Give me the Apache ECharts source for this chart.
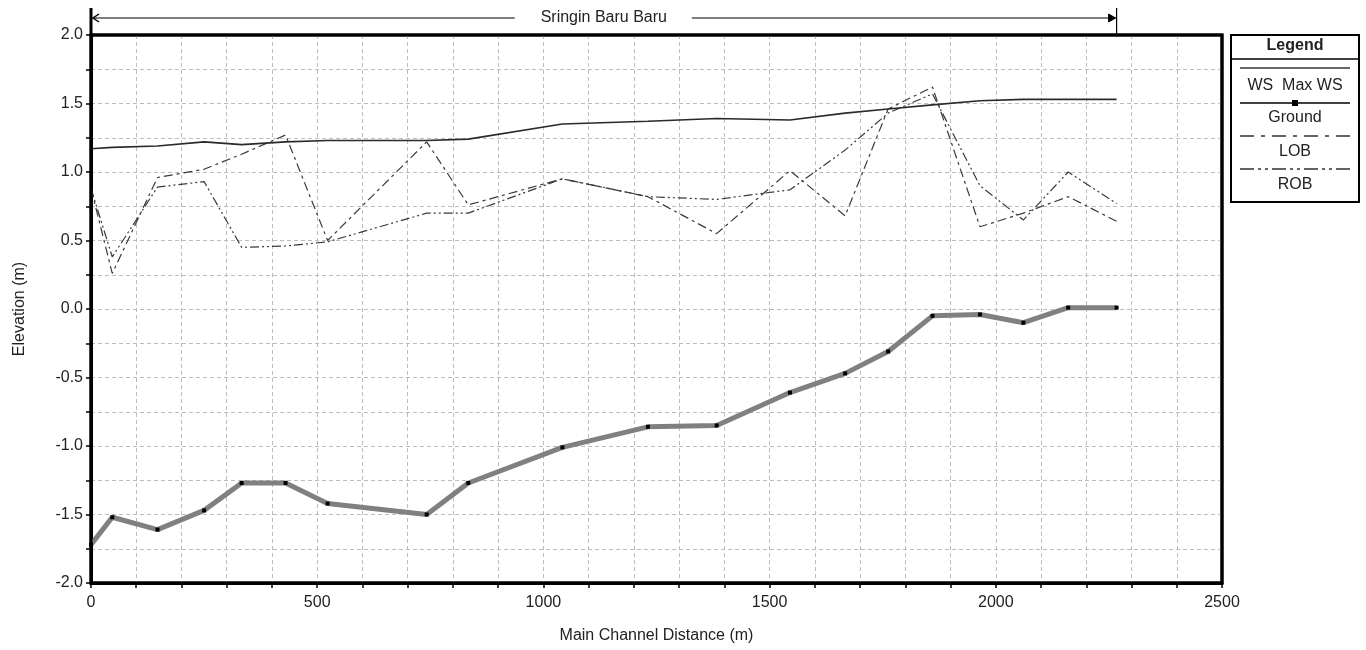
<!DOCTYPE html>
<html>
<head>
<meta charset="utf-8">
<script src="https://cdn.jsdelivr.net/npm/echarts@6/dist/echarts.min.js"></script>
<style>
  html, body { margin: 0; padding: 0; background: #fff; }
  #chart { width: 1366px; height: 650px; }
</style>
</head>
<body>
<div id="chart"></div>
<script>
// river stations along main channel (m)
const stations = [0, 47, 147, 250, 333, 430, 523, 742, 834, 1042, 1231, 1383, 1545, 1667, 1762, 1860, 1965, 2061, 2160, 2267]
const wsMax = [1.17, 1.18, 1.19, 1.22, 1.20, 1.22, 1.23, 1.23, 1.24, 1.35, 1.37, 1.39, 1.38, 1.43, 1.46, 1.49, 1.52, 1.53, 1.53, 1.53]
const ground = [-1.72, -1.52, -1.61, -1.47, -1.27, -1.27, -1.42, -1.50, -1.27, -1.01, -0.86, -0.85, -0.61, -0.47, -0.31, -0.05, -0.04, -0.10, 0.01, 0.01]
const lob = [0.88, 0.26, 0.96, 1.02, 1.13, 1.27, 0.50, 1.22, 0.76, 0.95, 0.82, 0.55, 1.01, 0.68, 1.46, 1.62, 0.60, 0.70, 0.82, 0.64]
const rob = [0.88, 0.38, 0.89, 0.93, 0.45, 0.46, 0.49, 0.70, 0.70, 0.95, 0.82, 0.80, 0.87, 1.16, 1.43, 1.57, 0.90, 0.65, 1.00, 0.77]

const reachName = 'Sringin Baru Baru'
const reachStart = 0
const reachEnd = 2267

const FONT = '"Liberation Sans", Arial, sans-serif'
const pairs = vals => stations.map((s, i) => [s, vals[i]])

const chart = echarts.init(document.getElementById('chart'))

const option = {
  animation: false,
  backgroundColor: '#fff',
  grid: { left: 91, right: 144, top: 35, bottom: 67, show: true, borderColor: '#000', borderWidth: 3 },
  xAxis: {
    type: 'value',
    min: 0,
    max: 2500,
    interval: 100,
    name: 'Main Channel Distance (m)',
    nameLocation: 'middle',
    nameGap: 45,
    nameTextStyle: { color: '#222', fontSize: 16, fontFamily: FONT },
    axisLine: { onZero: false, lineStyle: { color: '#000', width: 3 } },
    axisTick: { length: 5, lineStyle: { color: '#000', width: 1.5 } },
    axisLabel: {
      margin: 12,
      color: '#222',
      fontSize: 16,
      fontFamily: FONT,
      formatter: v => (v % 500 === 0 ? String(v) : '')
    },
    splitLine: { lineStyle: { color: '#bdbdbd', type: [4, 3], width: 1 } }
  },
  yAxis: {
    type: 'value',
    min: -2,
    max: 2,
    interval: 0.25,
    name: 'Elevation (m)',
    nameLocation: 'middle',
    nameGap: 63,
    nameTextStyle: { color: '#222', fontSize: 16, fontFamily: FONT },
    axisLine: { onZero: false, lineStyle: { color: '#000', width: 3 } },
    axisTick: { length: 5, lineStyle: { color: '#000', width: 1.5 } },
    axisLabel: {
      margin: 8,
      color: '#222',
      fontSize: 16,
      fontFamily: FONT,
      formatter: v => (Math.abs(v * 2 - Math.round(v * 2)) < 1e-6 ? v.toFixed(1) : '')
    },
    splitLine: { lineStyle: { color: '#bdbdbd', type: [4, 3], width: 1 } }
  },
  series: [
    {
      name: 'WS Max WS',
      type: 'line',
      data: pairs(wsMax),
      showSymbol: false,
      symbol: 'none',
      lineStyle: { color: '#2a2a2a', width: 1.6 },
      z: 4
    },
    {
      name: 'Ground',
      type: 'line',
      data: pairs(ground),
      symbol: 'rect',
      symbolSize: 4,
      itemStyle: { color: '#000' },
      lineStyle: { color: '#808080', width: 5 },
      z: 3
    },
    {
      name: 'LOB',
      type: 'line',
      data: pairs(lob),
      symbol: 'none',
      lineStyle: { color: '#3a3a3a', width: 1.2, type: [9, 4, 3, 4] },
      z: 2
    },
    {
      name: 'ROB',
      type: 'line',
      data: pairs(rob),
      symbol: 'none',
      lineStyle: { color: '#3a3a3a', width: 1.2, type: [9, 3, 2, 3, 2, 3] },
      z: 2
    }
  ]
}
chart.setOption(option)

// plot frame and reach annotation, placed through the axis scales
const [fx0, fy0] = chart.convertToPixel({ gridIndex: 0 }, [0, 2])
const [fx1, fy1] = chart.convertToPixel({ gridIndex: 0 }, [2500, -2])
const xs = chart.convertToPixel({ xAxisIndex: 0 }, reachStart)
const xe = chart.convertToPixel({ xAxisIndex: 0 }, reachEnd)
const mid = (xs + xe) / 2
const ay = 18
const thin = { stroke: '#000', lineWidth: 1.2 }

// legend box
const lgX = 1231
const lgW = 128
const lgCx = lgX + lgW / 2
const sampleX1 = 1240
const sampleX2 = 1350
const legendText = (txt, y, bold) => ({
  type: 'text',
  x: lgCx,
  y: y,
  style: { text: txt, align: 'center', verticalAlign: 'middle', fill: '#222', fontSize: 16, fontFamily: FONT, fontWeight: bold ? 'bold' : 'normal' }
})
const legendLine = (y, dash, w, col) => ({
  type: 'line',
  shape: { x1: sampleX1, y1: y, x2: sampleX2, y2: y },
  style: { stroke: col || '#333', lineWidth: w || 1.3, lineDash: dash || null }
})

chart.setOption({
  graphic: [
    {
      type: 'rect', z: 100,
      shape: { x: fx0, y: fy0, width: fx1 - fx0, height: fy1 - fy0 },
      style: { fill: null, stroke: '#000', lineWidth: 3 }
    },
    { type: 'line', shape: { x1: xs, y1: 8, x2: xs, y2: 35 }, style: { stroke: '#000', lineWidth: 3 } },
    { type: 'line', shape: { x1: xe, y1: 8, x2: xe, y2: 35 }, style: thin },
    { type: 'line', shape: { x1: xs + 2, y1: ay, x2: mid - 89, y2: ay }, style: thin },
    { type: 'line', shape: { x1: mid + 88, y1: ay, x2: xe - 1, y2: ay }, style: thin },
    { type: 'polyline', shape: { points: [[xs + 8, ay - 4], [xs + 2, ay], [xs + 8, ay + 4]] }, style: { stroke: '#000', lineWidth: 1.5, fill: null } },
    { type: 'polygon', shape: { points: [[xe - 8, ay - 4], [xe - 1, ay], [xe - 8, ay + 4]] }, style: { stroke: '#000', lineWidth: 1, fill: '#000' } },
    {
      type: 'text', x: mid, y: ay,
      style: { text: reachName, align: 'center', verticalAlign: 'middle', fill: '#222', fontSize: 16, fontFamily: FONT }
    },
    { type: 'rect', shape: { x: lgX, y: 35, width: lgW, height: 167 }, style: { fill: '#fff', stroke: '#000', lineWidth: 2 } },
    { type: 'line', shape: { x1: lgX, y1: 59, x2: lgX + lgW, y2: 59 }, style: { stroke: '#000', lineWidth: 1.5 } },
    legendText('Legend', 46, true),
    legendLine(68, null, 1.5),
    legendText('WS  Max WS', 86),
    legendLine(103, null, 1.5, '#000'),
    { type: 'rect', shape: { x: 1292, y: 100, width: 6, height: 6 }, style: { fill: '#000' } },
    legendText('Ground', 118),
    legendLine(136, [14, 7, 4, 7]),
    legendText('LOB', 152),
    legendLine(169, [14, 4, 3, 4, 3, 4]),
    legendText('ROB', 185)
  ]
})
</script>
</body>
</html>
